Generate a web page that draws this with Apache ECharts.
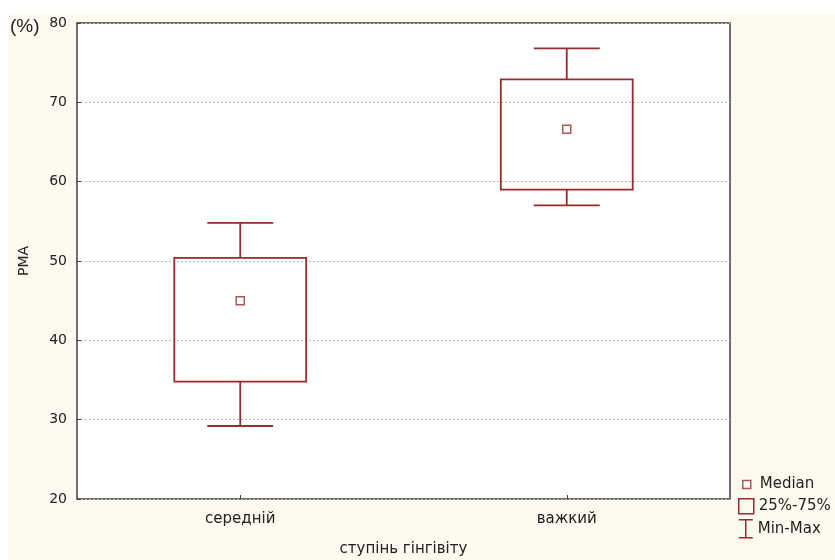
<!DOCTYPE html>
<html>
<head>
<meta charset="utf-8">
<script src="https://cdn.jsdelivr.net/npm/echarts@6/dist/echarts.min.js"></script>
<style>
  html, body { margin: 0; padding: 0; background: #ffffff; }
  #chart { position: absolute; left: 8px; top: 14px; width: 827px; height: 546px; }
</style>
</head>
<body>
<div id="chart"></div>
<script>
// Severity groups and box statistics (PMA, %)
const categories = ['середній', 'важкий'];
const minVals    = [29.2, 57.0];
const q1Vals     = [34.8, 59.0];
const medianVals = [45.0, 66.6];
const q3Vals     = [50.4, 72.9];
const maxVals    = [54.8, 76.8];
const yTicks     = { min: 20, max: 80, interval: 10 };

const RED = '#992a2e';
const FONT = 'DejaVu Sans';

const boxData = categories.map((c, i) => [i, q1Vals[i], q3Vals[i]]);
const whiskerData = categories.map((c, i) => [i, minVals[i], q1Vals[i], q3Vals[i], maxVals[i]]);
const medianData = categories.map((c, i) => [i, medianVals[i]]);

function renderBox(params, api) {
  const x = api.value(0);
  const lo = api.coord([x, api.value(1)]);
  const hi = api.coord([x, api.value(2)]);
  const w = api.size([1, 0])[0] * 0.404;
  return {
    type: 'rect',
    shape: { x: lo[0] - w / 2, y: hi[1], width: w, height: lo[1] - hi[1] },
    style: { fill: 'none', stroke: RED, lineWidth: 1.8 }
  };
}

function renderWhisker(params, api) {
  const x = api.value(0);
  const pMin = api.coord([x, api.value(1)]);
  const pQ1 = api.coord([x, api.value(2)]);
  const pQ3 = api.coord([x, api.value(3)]);
  const pMax = api.coord([x, api.value(4)]);
  const cap = api.size([1, 0])[0] * 0.202 / 2;
  const st = { stroke: RED, lineWidth: 1.8 };
  const line = (x1, y1, x2, y2) => ({ type: 'line', shape: { x1, y1, x2, y2 }, style: st });
  return {
    type: 'group',
    children: [
      line(pMax[0], pMax[1], pQ3[0], pQ3[1]),
      line(pMax[0] - cap, pMax[1], pMax[0] + cap, pMax[1]),
      line(pQ1[0], pQ1[1], pMin[0], pMin[1]),
      line(pMin[0] - cap, pMin[1], pMin[0] + cap, pMin[1])
    ]
  };
}

const legendText = { fontFamily: FONT, fontSize: 15, color: '#222' };

const chart = echarts.init(document.getElementById('chart'));
chart.setOption({
  backgroundColor: '#fffaf0',
  animation: false,
  title: {
    text: '(%)', left: 2, top: 3, padding: 0,
    textStyle: { fontFamily: 'Liberation Sans', fontSize: 19, fontWeight: 'normal', color: '#222' }
  },
  grid: {
    left: 69, top: 9, right: 105, bottom: 61,
    outerBoundsMode: 'none',
    show: true, backgroundColor: '#ffffff', borderColor: '#404040', borderWidth: 1.5
  },
  legend: [
    {
      data: ['Median'], orient: 'vertical', left: 734, top: 463, padding: 0,
      itemWidth: 8, itemHeight: 8, icon: 'rect',
      itemStyle: { color: '#ffffff', borderColor: RED, borderWidth: 1.5 },
      textStyle: Object.assign({ padding: [0, 0, 0, 4] }, legendText), selectedMode: false
    },
    {
      data: ['25%-75%'], orient: 'vertical', left: 730, top: 484, padding: 0,
      itemWidth: 15, itemHeight: 15, icon: 'rect',
      itemStyle: { color: 'rgba(0,0,0,0)', borderColor: RED, borderWidth: 1.5 },
      textStyle: legendText, selectedMode: false
    },
    {
      data: ['Min-Max'], orient: 'vertical', left: 730, top: 505, padding: 0,
      itemWidth: 14, itemHeight: 18, icon: 'path://M0,0H14M7,0V18M0,18H14',
      itemStyle: { color: 'rgba(0,0,0,0)', borderColor: RED, borderWidth: 1.5 },
      textStyle: legendText, selectedMode: false
    }
  ],
  xAxis: {
    type: 'category',
    data: categories,
    name: 'ступінь гінгівіту',
    nameLocation: 'middle',
    nameGap: 43,
    nameTextStyle: { fontFamily: FONT, fontSize: 15, color: '#222' },
    axisLine: { show: false },
    axisTick: { show: true, inside: true, alignWithLabel: true, length: 4, lineStyle: { color: '#404040' } },
    axisLabel: { fontFamily: FONT, fontSize: 15, color: '#222', margin: 13 },
    splitLine: { show: false }
  },
  yAxis: {
    type: 'value',
    min: yTicks.min, max: yTicks.max, interval: yTicks.interval,
    name: 'PMA',
    nameLocation: 'middle',
    nameGap: 46,
    nameTextStyle: { fontFamily: FONT, fontSize: 14, color: '#222' },
    axisLine: { show: false },
    axisTick: { show: true, inside: true, length: 4, lineStyle: { color: '#404040' } },
    axisLabel: { fontFamily: FONT, fontSize: 14, color: '#222', margin: 10 },
    splitLine: { show: true, lineStyle: { color: '#b8b8b8', type: [2, 2], width: 1 } }
  },
  series: [
    {
      name: 'Min-Max', type: 'custom', renderItem: renderWhisker,
      data: whiskerData, encode: { x: 0, y: [1, 2, 3, 4] }, z: 2,
      itemStyle: { color: RED }
    },
    {
      name: '25%-75%', type: 'custom', renderItem: renderBox,
      data: boxData, encode: { x: 0, y: [1, 2] }, z: 3,
      itemStyle: { color: RED }
    },
    {
      name: 'Median', type: 'scatter', data: medianData,
      symbol: 'rect', symbolSize: 8, z: 4,
      itemStyle: { color: '#ffffff', borderColor: RED, borderWidth: 1.5 }
    }
  ]
});
</script>
</body>
</html>
